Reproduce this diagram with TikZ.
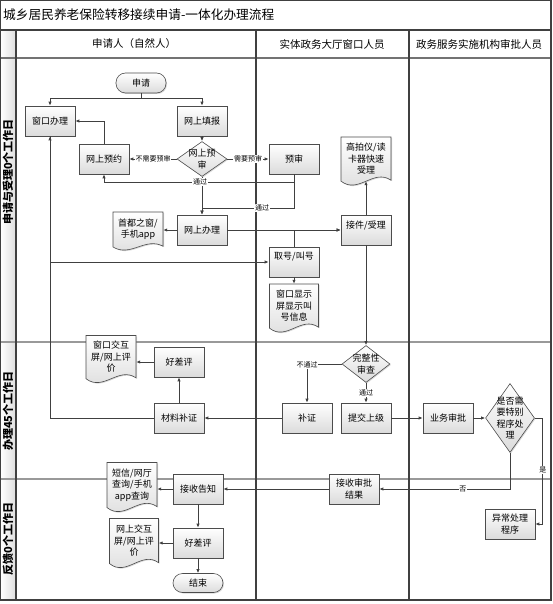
\documentclass[tikz,border=0pt]{standalone}
\usepackage{fontspec}
\setmainfont{Noto Sans CJK SC}
\usetikzlibrary{arrows.meta,shapes.geometric,shadows,calc}
\tikzset{
  shadowed/.style={drop shadow={shadow xshift=1pt,shadow yshift=-1pt,opacity=0.3}},
  box/.style={draw=black!70,line width=0.6pt,top color=white,bottom color=black!14,
    minimum width=50pt,minimum height=30pt,inner sep=1pt,align=center,
    font=\fontsize{9}{11.5}\selectfont,shadowed},
  term/.style={box,rounded corners=9.5pt,minimum height=20pt},
  dia/.style={box,diamond,inner sep=0pt},
  txt/.style={align=center,font=\fontsize{9}{11.5}\selectfont,inner sep=0pt},
  docpath/.style={draw=black!70,line width=0.6pt,top color=white,bottom color=black!14,shadowed},
  docbox/.style={rectangle,inner sep=0pt},
  conn/.style={draw=black!75,line width=0.8pt,-{Latex[length=4pt,width=3.4pt]}},
  elab/.style={fill=white,inner sep=0.6pt,font=\fontsize{7}{8}\selectfont},
  lane/.style={draw=black!75,line width=1.2pt},
  rowsep/.style={draw=black!40,line width=2pt},
  head/.style={font=\fontsize{10.5}{12}\selectfont,inner sep=0pt},
  rowlab/.style={font=\fontsize{11}{12}\selectfont\bfseries,inner sep=0pt,rotate=90},
}
\newcommand\docshape[6]{%
  \path[docpath] ({#2-#4/2},{#3-#5/2}) -- ({#2+#4/2},{#3-#5/2})
    -- ({#2+#4/2},{#3+#5/2-0.1*#5})
    .. controls ({#2+#4/2-0.35*#4},{#3+#5/2-0.35*#5}) and ({#2-#4/2+0.35*#4},{#3+#5/2+0.2*#5})
    .. ({#2-#4/2},{#3+#5/2-0.08*#5}) -- cycle;
  \node[docbox,minimum width=#4pt,minimum height=#5pt,
    label={[txt,yshift=2pt]center:{#6}}] (#1) at (#2,#3) {};
}
\begin{document}
\begin{tikzpicture}[x=1pt,y=-1pt]
\useasboundingbox (0,0) rectangle (553,604);
% lanes
\fill[left color=white,right color=black!13] (0.6,30) rectangle (16,600);
\draw[rowsep] (0.6,342) -- (551,342);
\draw[rowsep] (0.6,479) -- (551,479);
\draw[draw=black!55,line width=1.5pt] (0.6,58) -- (551,58);
\draw[lane] (0.6,30) -- (551,30);
\draw[lane] (16,30) -- (16,600);
\draw[lane] (256,30) -- (256,600);
\draw[lane] (409,30) -- (409,600);
\draw[lane] (0.6,0.6) rectangle (551,600);
% titles
\node[anchor=west,font=\fontsize{12.7}{14}\selectfont,inner sep=0pt] (title) at (3,15) {城乡居民养老保险转移接续申请-一体化办理流程};
\node[head] (h1) at (134,44) {申请人（自然人）};
\node[head] (h2) at (332,44) {实体政务大厅窗口人员};
\node[head] (h3) at (479,44) {政务服务实施机构审批人员};
\node[rowlab] (r1) at (8,172) {申请与受理0个工作日};
\node[rowlab] (r2) at (8,411) {办理45个工作日};
\node[rowlab] (r3) at (8,539) {反馈0个工作日};
% nodes row 1
\node[term] (start) at (141,83) {申请};
\node[box] (wkbl) at (50,121) {窗口办理};
\node[box] (wstb) at (202,121) {网上填报};
\node[box] (wsyy) at (104,159) {网上预约};
\node[dia,minimum width=50pt,minimum height=35pt,label={[txt]center:{网上预\\审}}] (ys) at (202,159) {};
\node[box] (ysh) at (294,159) {预审};
\node[box] (wsbl) at (202,230) {网上办理};
\node[box] (jjsl) at (366,230) {接件/受理\\~};
\node[box] (qh) at (294,262) {取号/叫号\\~};
\docshape{gpy}{366}{161}{50}{48}{高拍仪/读\\卡器快速\\受理}
\docshape{xsp}{294}{308}{49}{48}{窗口显示\\屏显示叫\\号信息}
\docshape{sdzc}{138}{231}{50}{38}{首都之窗/\\手机app}
% row 2
\node[box] (hcp1) at (179,362) {好差评};
\node[box] (clbz) at (179,418) {材料补证};
\docshape{ckjh}{111}{359}{50}{47}{窗口交互\\屏/网上评\\价}
\node[dia,minimum width=48pt,minimum height=37pt,label={[txt]center:{完整性\\审查}}] (wzx) at (366,364) {};
\node[box] (bz) at (307,418) {补证};
\node[box] (tjsj) at (366,418) {提交上级};
\node[box] (ywsp) at (448,418) {业务审批};
\node[dia,minimum width=49pt,minimum height=69pt,label={[txt]center:{是否需\\要特别\\程序处\\理}}] (sfx) at (510,418) {};
% row 3
\node[box] (jssp) at (354,489) {接收审批\\结果};
\node[box] (ycl) at (510,524) {异常处理\\程序};
\node[box] (jsgz) at (198,489) {接收告知};
\node[box] (hcp2) at (198,543) {好差评};
\node[term,minimum height=19pt] (end) at (198,583) {结束};
\docshape{dx}{132}{487}{50}{49}{短信/网厅\\查询/手机\\app查询}
\docshape{wsjh}{134}{543}{49}{49}{网上交互\\屏/网上评\\价}
% connectors
\draw[conn] (start.south) -- ++(0,5) -| (wkbl.north);
\draw[conn] (start.south) -- ++(0,5) -| (wstb.north);
\draw[conn] (wstb) -- (ys);
\draw[conn] (ys.west) -- node[elab]{不需要预审} (wsyy.east);
\draw[conn] (ys.east) -- node[elab]{需要预审} (ysh.west);
\draw[conn] (wsyy.north) |- (wkbl.east);
\draw[conn] (ys.south) -- (wsbl.north);
\draw[conn] (ysh.south) -- ++(0,8) -| (wsyy.south);
\draw[conn] (ysh.south) -- ++(0,34) -| (wsbl.north);
\node[elab] (ltg1) at (200,182) {通过};
\node[elab] (ltg2) at (262,208) {通过};
\draw[conn] (wsbl.west) -- (wsbl.west -| sdzc.east);
\draw[conn] (wsbl.east) -- (jjsl.west);
\draw[conn] (qh.north) |- (jjsl.west);
\draw[conn] (wkbl.south) |- (qh.west);
\draw[conn] (qh.south) -- (xsp.north);
\draw[conn] (jjsl.north) -- ([yshift=4pt]gpy.south);
\draw[conn] (jjsl.south) -- (wzx.north);
\draw[conn] (wzx.west) -| (bz.north);
\node[elab] (lbtg) at (307,365) {不通过};
\draw[conn] (wzx.south) -- node[elab]{通过} (tjsj.north);
\draw[conn] (bz.west) -- (clbz.east);
\draw[conn] (tjsj.east) -- (ywsp.west);
\draw[conn] (ywsp.east) -- (sfx.west);
\draw[conn] (sfx.south) |- node[elab,pos=0.68]{否} (jssp.east);
\draw[conn] (sfx.east) -- ++(8,0) |- node[elab,pos=0.245]{是} (ycl.east);
\draw[conn] (clbz.west) -| (wkbl.south);
\draw[conn] (clbz.north) -- (hcp1.south);
\draw[conn] (hcp1.west) -- (hcp1.west -| ckjh.east);
\draw[conn] (jssp.west) -- (jsgz.east);
\draw[conn] (jsgz.west) -- (jsgz.west -| dx.east);
\draw[conn] (jsgz.south) -- (hcp2.north);
\draw[conn] (hcp2.west) -- (hcp2.west -| wsjh.east);
\draw[conn] (hcp2.south) -- (end.north);
\end{tikzpicture}
\end{document}
